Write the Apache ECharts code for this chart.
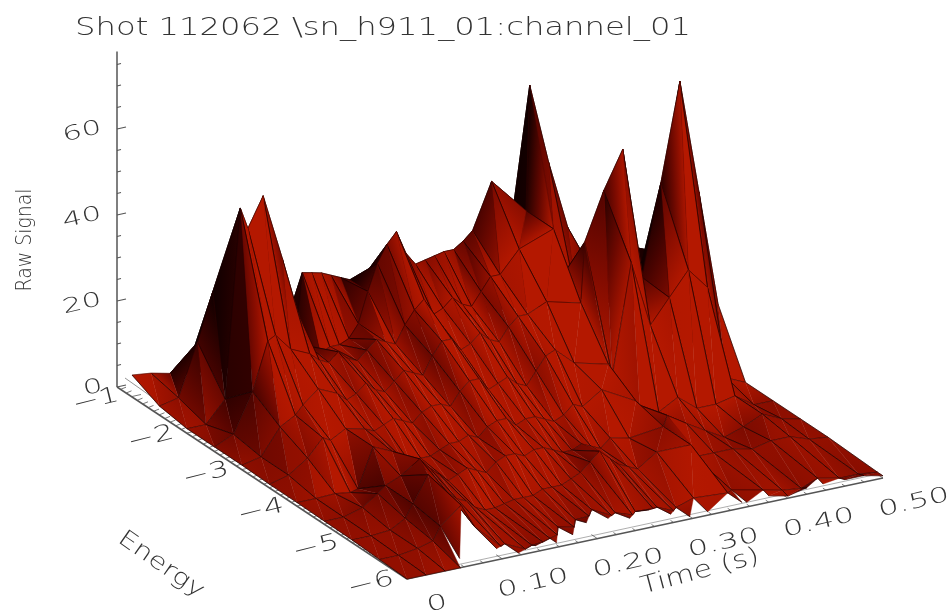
<!DOCTYPE html>
<html><head><meta charset="utf-8">
<style>html,body{margin:0;padding:0;background:#fff}#c{width:951px;height:615px}</style>
<script src="https://cdn.jsdelivr.net/npm/echarts@6/dist/echarts.min.js"></script>
</head><body><div id="c"></div>
<script>
var titleText = "Shot 112062 \\sn_h911_01:channel_01";
var times = [0,.02,.04,.056,.064,.08,.10,.11,.12,.13,.14,.15,.16,.17,.18,.19,.20,.21,.22,.23,.24,.25,.26,.27,.28,.29,.30,.32,.356,.36,.38,.40,.42,.44,.46,.48,.50];
var energies = [-1,-1.5,-2,-2.5,-3,-3.5,-4,-4.5,-5];
var rowM1  = [5,4.5,3.5,2.5,2.5,2,2,2,2,2,2,2,2,2,2,2,2,2,2,2,2,2,2,2,2,2,2,2,2,2,2,2,1,1,1,1,1];
var rowM15 = [2,3,15,26,27,25,10,6,3,3,4,26,25.5,25,24,23,22,21,20,18,16,15,14,13,12,13,14,14,12,12,10,8,6,6,8,3,1];
var rowM2  = [1,1,6,49.7,44.6,51.4,36,26,16,14,12,13,13,14,17,24,30,34,36.5,31,28,28.5,29,29.5,29.5,31,33,43.5,35,64,45,29,15,14,22,6,1];
var rowM25 = [1,3,12,23,24,20,18,16,15,17,15,14,16,18,17,16,20,23,25,21,22,24,22,21,24,27,27,32,35,22,18,22,15,15,25,10,1];
var rowM3  = [1,2,8,10,12,15,13,11,12,14,12,11,13,15,14,13,17,20,20,17,18,20,18,17,20,22,22,24,22,36,47,55.7,25,46,68.7,42,15];
var rowM35 = [.8,2,5,9,8,10,9,8,9,10,9,8,10,11,11,10,13,15,15,12,13,14,12,11,14,17,18,14,12,9,34.5,19,24.5,30,25,3,1];
var rowM4  = [.8,.8,1,.5,1,10,8,6,4,5,5,6,7,7,8,7,9,10,10,8,9,9,8,7,8,10,9,12,7.7,6.5,4,6.5,3,3,4,1,1];
var rowM45 = [.7,.7,2,4.5,6,7.5,10.5,8,6,4,5,6,5,4,6,7,7,6,7,7,6,5,5,6,5,4,6,5,6,8.4,5.6,3,.5,2,4,2,1];
var rowM5  = [.6,.6,1,3,6,12,7,5,4,2,1,1,1.5,2,2,2,3,3,3,4,5,7,9,7,5,4,3,6,6,3,3,3,2,3,3,1.5,1];
var frontE1 = [-5.5,-5.5,-5.5,-5.5,-5.5,-5.6,-5.5,-5.8,-5.7,-5.9,-5.85,-5.875,-5.83,-5.79,-5.63,-5.75,-5.6,-5.675,-5.55,-5.74,-5.63,-5.775,-5.65,-5.8,-5.7,-5.825,-5.7,-5.67,-5.67,-5.67,-5.9,-5.9,-5.9,-5.85,-5.9,-5.9,-5.9];
var frontV1 = [.3,.3,1,2,5,10,3.2,.75,0,0,0,.5,.5,.5,.5,1,1,2,2,1.75,1,1.25,.5,2,1,.75,0,1,.5,1,2,1,.5,1.5,1,1,.5];
var frontE2 = [-6,-6,-6,-6,-5.85,-5.6,-5.9,-5.8,-5.95,-5.9,-5.92,-5.875,-5.95,-5.79,-5.9,-5.75,-5.8,-5.675,-5.85,-5.74,-5.9,-5.775,-5.9,-5.8,-5.95,-5.825,-5.95,-5.93,-5.93,-5.95,-6,-6,-6,-5.95,-6,-6,-6];
var frontV2 = [0,0,0,0,.5,10,1.5,.75,0,0,.5,.5,.5,.5,1,1,2,2,2.5,1.75,2,1.25,3,2,1.5,.75,0,0,.5,.5,1.5,.5,1.5,1,1.5,1.5,.5];
var timeTicks = [0,.1,.2,.3,.4,.5];
var timeLabels = ["0","0.10","0.20","0.30","0.40","0.50"];
var energyTicks = [-1,-2,-3,-4,-5,-6];
var energyLabels = ["-1","-2","-3","-4","-5","-6"];
var signalTicks = [0,20,40,60];
var signalLabels = ["0","20","40","60"];

var FONT = '"DejaVu Sans"';
function proj(t,e,v){ return [407+952*t-55*(e+6), 579-202*t-36.5*(e+6)-4.3*v]; }

var rows = [rowM1,rowM15,rowM2,rowM25,rowM3,rowM35,rowM4,rowM45,rowM5];
var grid = [];
rows.forEach(function(r,i){ grid.push(r.map(function(v,k){return {t:times[k],e:energies[i],v:v};})); });
grid.push(frontV1.map(function(v,k){return {t:times[k],e:frontE1[k],v:v};}));
grid.push(frontV2.map(function(v,k){return {t:times[k],e:frontE2[k],v:v};}));
var R = grid.length, K = times.length;
function world(n){ return [n.t*1100,(n.e+6)*110,n.v*4.64]; }
function faceN(a,b,c){
  var A=world(a),B=world(b),C=world(c);
  var u=[B[0]-A[0],B[1]-A[1],B[2]-A[2]],w=[C[0]-A[0],C[1]-A[1],C[2]-A[2]];
  var n=[u[1]*w[2]-u[2]*w[1],u[2]*w[0]-u[0]*w[2],u[0]*w[1]-u[1]*w[0]];
  if(n[2]<0){n=[-n[0],-n[1],-n[2]];}
  return n;
}
function unit(n){var l=Math.hypot(n[0],n[1],n[2])||1;return [n[0]/l,n[1]/l,n[2]/l];}
var tris=[];
for(var r=0;r<R-1;r++){
  for(var k=K-2;k>=0;k--){
    var a=grid[r][k],b=grid[r][k+1],c=grid[r+1][k],d=grid[r+1][k+1];
    var notch=(r===R-2)&&!(frontE2[k]===-6&&frontE2[k+1]===-6);
    if(!notch){var T2=[b,d,c];T2.kind=1;tris.push(T2);}
    var T1=[a,b,c];T1.kind=0;tris.push(T1);
  }
}
tris.forEach(function(t){
  var n=unit(faceN(t[0],t[1],t[2]));
  t.n=n;
  t.forEach(function(p){ p.acc=p.acc||[0,0,0]; p.acc[0]+=n[0];p.acc[1]+=n[1];p.acc[2]+=n[2]; });
});
var D=unit([0.06,-0.78,0.6]);
function shade(n){
  var d=Math.max(0,n[0]*D[0]+n[1]*D[1]+n[2]*D[2]);
  return 0.04+0.8*Math.pow(Math.min(1,d/0.8),0.95);
}
var triData=tris.map(function(t){
  var out=[];
  t.forEach(function(p){var q=proj(p.t,p.e,p.v);out.push(q[0],q[1]);});
  t.forEach(function(p){
    var v=unit(p.acc);
    var m=unit([v[0]*.6+t.n[0]*.4,v[1]*.6+t.n[1]*.4,v[2]*.6+t.n[2]*.4]);
    out.push(shade(m));
  });
  out.push(t.kind);
  return out;
});
function col(s){ s=Math.min(1,s); return 'rgb('+Math.round(8+205*s)+','+Math.round(34*s*s)+',0)'; }
function ln(p,q,a,w){ return {type:'line',silent:true,shape:{x1:p[0],y1:p[1],x2:q[0],y2:q[1]},style:{stroke:'rgba(20,0,0,'+a+')',lineWidth:w}}; }
function renderTri(params,api){
  var P=[0,1,2].map(function(i){return api.coord([api.value(2*i),api.value(2*i+1)]);});
  var S=[api.value(6),api.value(7),api.value(8)], kind=api.value(9);
  var smin=Math.min.apply(null,S),smax=Math.max.apply(null,S);
  var det=(P[1][0]-P[0][0])*(P[2][1]-P[0][1])-(P[2][0]-P[0][0])*(P[1][1]-P[0][1]);
  var avg=col((S[0]+S[1]+S[2])/3), fill=avg;
  if(Math.abs(det)>1&&smax-smin>0.01){
    var ds1=S[1]-S[0],ds2=S[2]-S[0];
    var ga=(ds1*(P[2][1]-P[0][1])-ds2*(P[1][1]-P[0][1]))/det;
    var gb=((P[1][0]-P[0][0])*ds2-(P[2][0]-P[0][0])*ds1)/det;
    var g2=ga*ga+gb*gb, i0=S.indexOf(smin), f=(smax-smin)/g2;
    fill={type:'linear',global:true,x:P[i0][0],y:P[i0][1],x2:P[i0][0]+ga*f,y2:P[i0][1]+gb*f,
      colorStops:[{offset:0,color:col(smin)},{offset:.5,color:col((smin+smax)/2)},{offset:1,color:col(smax)}]};
  }
  var kids=[{type:'polygon',silent:true,shape:{points:P},style:{fill:fill,stroke:avg,lineWidth:0.4}}];
  if(kind===0){ kids.push(ln(P[0],P[2],.85,.8)); kids.push(ln(P[0],P[1],.55,.7)); }
  else { kids.push(ln(P[0],P[1],.85,.8)); kids.push(ln(P[1],P[2],.55,.7)); }
  return {type:'group',silent:true,children:kids};
}

var segs=[], texts=[];
function seg(a,b,w,c){ segs.push([a[0],a[1],b[0],b[1],w,c||'#555']); }
function add(a,dx,dy){ return [a[0]+dx,a[1]+dy]; }
var zx=117, z0=387;
seg([zx,z0],[zx,z0-4.3*78],1.5);
for(var v=0;v<=75;v+=5){
  var y=z0-4.3*v, maj=v%20===0;
  seg([zx,y],[zx+(maj?9:4),y-(maj?2:1)],1.1);
}
seg([zx,z0],proj(0,-6,0),1.5);
seg(add([zx,z0],8,-9),add(proj(0,-6,0),-3,-4),0.9,'#888');
for(var e=-6;e<=-0.75;e+=0.1){
  var b0=proj(0,e,0), isM=Math.abs(e-Math.round(e))<.01;
  seg(b0,add(b0,isM?9:5,isM?-2:-2),0.8);
}
seg(proj(0,-6,0),proj(.5,-6,0),1.5);
seg(add(proj(0,-6,0),3,-4),add(proj(.5,-6,0),-5,-4),0.8,'#999');
for(var tt=0;tt<=.5001;tt+=.02){
  var b1=proj(tt,-6,0), mj=Math.abs(tt*10-Math.round(tt*10))<.001;
  seg(b1,add(b1,mj?-6:-3,mj?-4:-2),0.8);
}
function txt(s,x,y,rot,size,sx){ texts.push([s,x,y,rot,size,sx]); }
txt(titleText,75,28,0,25,1.29);
signalTicks.forEach(function(v,i){ txt(signalLabels[i],i===0?93:82,z0-4.3*v+(i===0?1:3),13,20,1.55); });
txt("Raw Signal",26,240,90,21,0.9);
energyTicks.forEach(function(e,i){ var p=proj(0,e,0); txt(energyLabels[i].replace('-','\u2212'),p[0]-36,p[1]+(i==0?4:5),14,22,1.45); });
timeTicks.forEach(function(t,i){ var p=proj(t,-6,0); txt(timeLabels[i],p[0]+(i===0?30:31),p[1]+25,13,21,1.55); });
txt("Energy",161,565,-35,23,1.25);
txt("Time (s)",700,572,15,24,1.25);

var opt={
  animation:false,
  backgroundColor:'#fff',
  grid:{left:0,right:0,top:0,bottom:0,containLabel:false},
  xAxis:{type:'value',min:0,max:951,show:false},
  yAxis:{type:'value',min:0,max:615,inverse:true,show:false},
  series:[
    {type:'custom',coordinateSystem:'cartesian2d',clip:false,z:1,silent:true,
     data:segs,
     renderItem:function(p,api){
       var a=api.coord([api.value(0),api.value(1)]),b=api.coord([api.value(2),api.value(3)]);
       return {type:'line',silent:true,shape:{x1:a[0],y1:a[1],x2:b[0],y2:b[1]},style:{stroke:segs[p.dataIndex][5],lineWidth:api.value(4)}};
     }},
    {type:'custom',coordinateSystem:'cartesian2d',clip:false,z:2,silent:true,
     data:triData,renderItem:renderTri},
    {type:'custom',coordinateSystem:'cartesian2d',clip:false,z:3,silent:true,
     data:texts.map(function(t,i){return [t[1],t[2],i];}),
     encode:{x:0,y:1},
     renderItem:function(p,api){
       var t=texts[p.dataIndex], c=api.coord([t[1],t[2]]);
       return {type:'text',silent:true,x:c[0],y:c[1],rotation:t[3]*Math.PI/180,scaleX:t[5],scaleY:1,
         style:{text:t[0],fill:'#333',font:'200 '+t[4]+'px '+FONT,
           textAlign:p.dataIndex===0?'left':'center',textVerticalAlign:'middle',textBaseline:'middle'}};
     }}
  ]
};
var chart=echarts.init(document.getElementById('c'),null,{renderer:'canvas'});
chart.setOption(opt);
</script></body></html>
